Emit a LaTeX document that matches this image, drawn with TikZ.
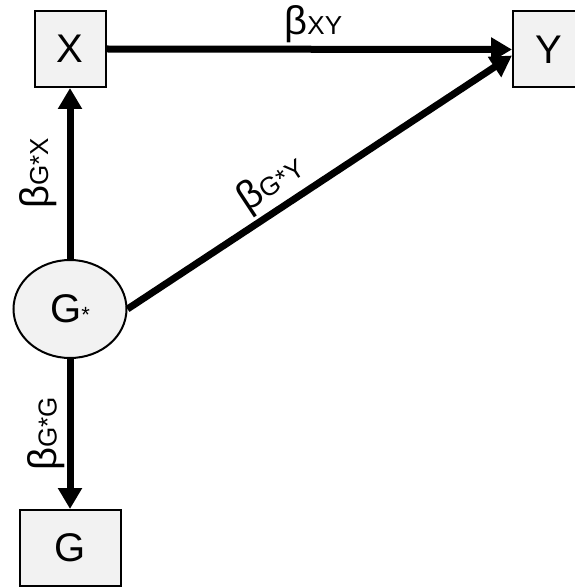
\documentclass[tikz,border=0pt]{standalone}
\usepackage{fontspec}
\setmainfont{Liberation Sans}
\usetikzlibrary{arrows.meta,shapes.geometric,calc}
\definecolor{boxfill}{HTML}{F2F2F2}
\newcommand\sbs[1]{{\fontsize{26}{26}\selectfont #1}}
\begin{document}
\begin{tikzpicture}[x=1pt,y=-1pt,
  varbox/.style={draw=black, line width=2pt, fill=boxfill, minimum width=71pt, minimum height=76pt, inner sep=0pt, font=\fontsize{40}{44}\selectfont},
  latent/.style={ellipse, draw=black, line width=2pt, fill=boxfill, minimum width=113pt, minimum height=98pt, inner sep=0pt, font=\fontsize{40}{44}\selectfont},
  causal/.style={line width=7pt, -{Triangle[length=21pt,width=23pt]}},
  coef/.style={font=\fontsize{40}{44}\selectfont, inner sep=0pt}]
\useasboundingbox (0,0) rectangle (574,588);
\node[varbox] (X) at (70,49) {X};
\node[varbox] (Y) at (548.5,49.5) {Y};
\node[latent] (gs) at (70,309) {G{\fontsize{22}{22}\selectfont *}};
\node[varbox, minimum width=101pt] (G) at (70,548) {G};
\draw[causal] (X.east) -- node[coef, above=3pt, pos=0.51] {β\sbs{XY}} (Y.west);
\draw[causal] (gs.north) -- node[coef, sloped, above=10pt, pos=0.5] {β\sbs{G*X}} (X.south);
\draw[causal] (gs.east) -- node[coef, sloped, above=3pt, pos=0.41] {β\sbs{G*Y}} ([yshift=-6pt]Y.west);
\draw[causal] (gs.south) -- (G.north);
\node[coef, rotate=90, anchor=south] (lgg) at ($(gs.south)!0.5!(G.north)+(-5pt,0)$) {β\sbs{G*G}};
\end{tikzpicture}
\end{document}
